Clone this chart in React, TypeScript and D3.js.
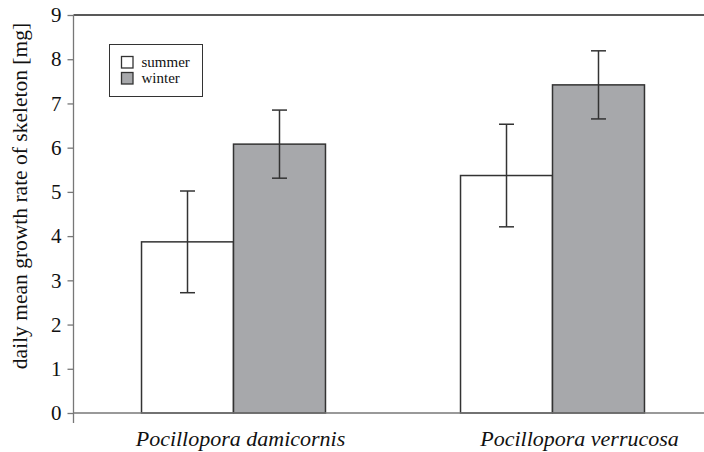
import React, { useRef, useEffect } from "react";
import * as d3 from "d3";

const categories = ["Pocillopora damicornis", "Pocillopora verrucosa"];
const seasons = ["summer", "winter"];
const summerMeans = [3.87, 5.37];
const summerSd = [1.15, 1.16];
const winterMeans = [6.08, 7.42];
const winterSd = [0.77, 0.77];
const yTicks = [0, 1, 2, 3, 4, 5, 6, 7, 8, 9];
const yLabel = "daily mean growth rate of skeleton [mg]";

const fills: Record<string, string> = { summer: "#ffffff", winter: "#a7a8ab" };
const serif = "'Liberation Serif', 'Times New Roman', serif";

function App() {
  const ref = useRef<SVGSVGElement>(null);

  useEffect(() => {
    const width = 704;
    const height = 452;
    const svg = d3.select(ref.current);
    svg.selectAll("*").remove();
    svg.attr("width", width).attr("height", height).attr("font-family", serif);

    const y = d3.scaleLinear().domain([0, 9]).range([413, 15]);
    const x0 = d3.scaleBand().domain(categories).range([74, 712]).padding(0);
    const x1 = d3
      .scaleBand()
      .domain(seasons)
      .range([0, x0.bandwidth()])
      .paddingInner(0)
      .paddingOuter(0.734);

    const rows = categories.map((c, i) => ({
      cat: c,
      bars: [
        { key: "summer", value: summerMeans[i], sd: summerSd[i] },
        { key: "winter", value: winterMeans[i], sd: winterSd[i] },
      ],
    }));

    // top line
    svg
      .append("line")
      .attr("x1", 73.5)
      .attr("x2", width)
      .attr("y1", y(9))
      .attr("y2", y(9))
      .attr("stroke", "#222")
      .attr("stroke-width", 1.3);

    const groups = svg
      .append("g")
      .selectAll("g")
      .data(rows)
      .join("g")
      .attr("transform", (d) => `translate(${x0(d.cat)},0)`);

    groups
      .selectAll("rect")
      .data((d) => d.bars)
      .join("rect")
      .attr("x", (d) => x1(d.key)!)
      .attr("y", (d) => y(d.value))
      .attr("width", x1.bandwidth())
      .attr("height", (d) => y(0) - y(d.value))
      .attr("fill", (d) => fills[d.key])
      .attr("stroke", "#333")
      .attr("stroke-width", 1.5);

    const err = groups
      .selectAll("g.err")
      .data((d) => d.bars)
      .join("g")
      .attr("class", "err")
      .attr("transform", (d) => `translate(${x1(d.key)! + x1.bandwidth() / 2},0)`)
      .attr("stroke", "#333")
      .attr("stroke-width", 1.5);
    err
      .append("line")
      .attr("y1", (d) => y(d.value + d.sd))
      .attr("y2", (d) => y(d.value - d.sd));
    err
      .append("line")
      .attr("x1", -7.5)
      .attr("x2", 7.5)
      .attr("y1", (d) => y(d.value + d.sd))
      .attr("y2", (d) => y(d.value + d.sd));
    err
      .append("line")
      .attr("x1", -7.5)
      .attr("x2", 7.5)
      .attr("y1", (d) => y(d.value - d.sd))
      .attr("y2", (d) => y(d.value - d.sd));

    // x axis
    svg
      .append("line")
      .attr("x1", 73.5)
      .attr("x2", width)
      .attr("y1", y(0))
      .attr("y2", y(0))
      .attr("stroke", "#777")
      .attr("stroke-width", 1.3);

    // y axis
    const yAxis = svg
      .append("g")
      .attr("transform", "translate(73.5,0)")
      .call(d3.axisLeft(y).tickValues(yTicks).tickSize(6).tickPadding(6).tickSizeOuter(0));
    yAxis.attr("font-family", serif).attr("font-size", 21);
    yAxis.select(".domain").remove();
    yAxis
      .append("line")
      .attr("y1", y(9))
      .attr("y2", y(0) + 10)
      .attr("stroke", "#777")
      .attr("stroke-width", 1.3);
    yAxis.selectAll(".tick line").attr("stroke", "#777").attr("stroke-width", 1.3);
    yAxis.selectAll(".tick text").attr("fill", "#111");

    // category labels
    const labelShift = [7, 27];
    svg
      .append("g")
      .selectAll("text")
      .data(categories)
      .join("text")
      .attr("x", (d, i) => x0(d)! + x0.bandwidth() / 2 + labelShift[i])
      .attr("y", 446)
      .attr("text-anchor", "middle")
      .attr("fill", "#111")
      .attr("font-style", "italic")
      .attr("font-size", 22)
      .text((d) => d);

    // y label
    svg
      .append("text")
      .attr("transform", `translate(27,${196}) rotate(-90)`)
      .attr("text-anchor", "middle")
      .attr("fill", "#111")
      .attr("font-size", 21.5)
      .text(yLabel);

    // legend
    const legend = svg.append("g").attr("transform", "translate(109.5,44.5)");
    legend
      .append("rect")
      .attr("width", 93)
      .attr("height", 52)
      .attr("fill", "#fff")
      .attr("stroke", "#333")
      .attr("stroke-width", 1);
    const items = legend
      .selectAll("g.item")
      .data(seasons)
      .join("g")
      .attr("class", "item")
      .attr("transform", (d, i) => `translate(12,${12 + i * 16})`);
    items
      .append("rect")
      .attr("width", 11.5)
      .attr("height", 11.5)
      .attr("fill", (d) => fills[d])
      .attr("stroke", "#333")
      .attr("stroke-width", 1.3);
    items
      .append("text")
      .attr("x", 20)
      .attr("y", 10.5)
      .attr("fill", "#111")
      .attr("font-size", 15)
      .text((d) => d);
  }, []);

  return (
    <svg ref={ref} style={{ position: "absolute", left: 0, top: 0, background: "#fff" }}></svg>
  );
}

export default App;
